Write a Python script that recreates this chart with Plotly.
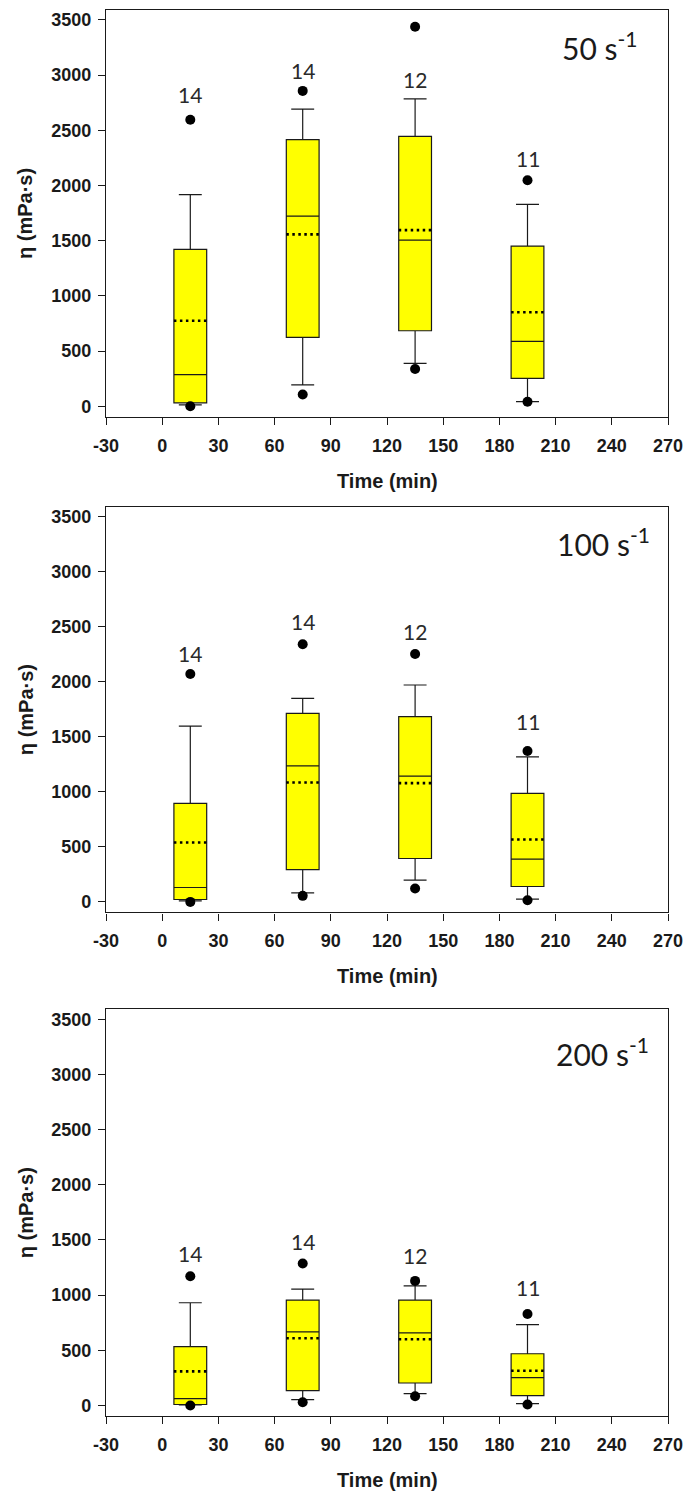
import plotly.graph_objects as go

# ---- data -------------------------------------------------------------
TIMES = [15, 75, 135, 195]                 # sampling time (min)
SHEAR_RATES = ["50", "100", "200"]         # s^-1, one panel each
N_COUNTS = [14, 14, 12, 11]                # samples per time point

# box statistics per panel (rows: 50, 100, 200 s^-1)
Q1 = [
    [31, 623, 684, 253],
    [22, 294, 394, 140],
    [9, 135, 204, 90],
]
MEDIAN = [
    [286, 1722, 1505, 587],
    [131, 1236, 1143, 388],
    [63, 667, 658, 252],
]
Q3 = [
    [1421, 2415, 2445, 1451],
    [894, 1712, 1682, 985],
    [534, 955, 955, 469],
]
MEAN = [
    [774, 1557, 1596, 852],
    [540, 1085, 1079, 567],
    [309, 610, 601, 315],
]
LOW_WHISKER = [
    [13, 193, 388, 42],
    [10, 82, 197, 25],
    [5, 54, 108, 18],
]
HIGH_WHISKER = [
    [1918, 2691, 2785, 1828],
    [1597, 1849, 1970, 1318],
    [931, 1054, 1084, 733],
]
LOW_OUTLIER = [
    [0, 106, 338, 40],
    [0, 55, 122, 15],
    [0, 30, 84, 9],
]
HIGH_OUTLIER = [
    [2595, 2857, 3438, 2047],
    [2070, 2340, 2252, 1371],
    [1171, 1286, 1129, 829],
]

X_TICKS = list(range(-30, 271, 30))
X_TICK_TEXT = [str(v) for v in X_TICKS]
Y_TICKS = list(range(0, 3501, 500))

# ---- layout helpers ---------------------------------------------------
FIG_W, FIG_H = 692, 1499
M_L, M_R, M_T, M_B = 106, 21, 9, 83
PANEL_PX = [(9, 416), (506, 912), (1009, 1416)]   # top/bottom of each plot area
PLOT_H = FIG_H - M_T - M_B

BOX_W = 17.5
YELLOW = "#FFFF00"
INK = "#1a1a1a"

# height of the "n" labels above each box (value units)
N_LABEL_Y = [
    [2826, 3038, 2962, 2243],
    [2258, 2545, 2454, 1636],
    [1378, 1487, 1360, 1069],
]
# rate label anchor (right edge x, centre y)
RATE_LABEL_POS = [(254.6, 3266), (261.5, 3272), (260.8, 3201)]

fig = go.Figure()
layout_axes = {}
annotations = []

for p, rate in enumerate(SHEAR_RATES):
    sfx = "" if p == 0 else str(p + 1)
    xa, ya = "x" + sfx, "y" + sfx

    fig.add_trace(go.Box(
        x=TIMES,
        q1=Q1[p], median=MEDIAN[p], q3=Q3[p],
        lowerfence=LOW_WHISKER[p], upperfence=HIGH_WHISKER[p],
        width=BOX_W, whiskerwidth=0.7,
        fillcolor=YELLOW,
        line=dict(color=INK, width=1.2),
        boxpoints=False, showlegend=False, hoverinfo="skip",
        xaxis=xa, yaxis=ya,
    ))

    # dotted mean lines across each box
    for t, m in zip(TIMES, MEAN[p]):
        fig.add_trace(go.Scatter(
            x=[t - BOX_W / 2, t + BOX_W / 2], y=[m, m],
            mode="lines",
            line=dict(color="black", width=2.6, dash="2.5px,3.5px"),
            showlegend=False, hoverinfo="skip",
            xaxis=xa, yaxis=ya,
        ))

    # outliers
    fig.add_trace(go.Scatter(
        x=TIMES + TIMES,
        y=LOW_OUTLIER[p] + HIGH_OUTLIER[p],
        mode="markers",
        marker=dict(color="black", size=10),
        showlegend=False, hoverinfo="skip",
        xaxis=xa, yaxis=ya,
    ))

    top_px, bot_px = PANEL_PX[p]
    dom = [1 - (bot_px - M_T) / PLOT_H, 1 - (top_px - M_T) / PLOT_H]

    axis_common = dict(
        showline=True, linecolor=INK, linewidth=1.4, mirror=True,
        ticks="outside", ticklen=7, tickwidth=1.2, tickcolor=INK,
        showgrid=False, zeroline=False,
        tickfont=dict(family="Liberation Sans, Arial", size=18,
                      color=INK, weight="bold"),
    )
    layout_axes["xaxis" + sfx] = dict(
        axis_common, range=[-30, 270], tickvals=X_TICKS, ticktext=X_TICK_TEXT,
        ticklabelstandoff=5, anchor=ya, domain=[0, 1],
    )
    layout_axes["yaxis" + sfx] = dict(
        axis_common, range=[-95, 3590], tickvals=Y_TICKS,
        ticklabelstandoff=3, anchor=xa, domain=dom,
    )

    # sample counts
    for t, n, ly in zip(TIMES, N_COUNTS, N_LABEL_Y[p]):
        annotations.append(dict(
            x=t, y=ly, xref=xa, yref=ya, text=str(n), showarrow=False,
            font=dict(family="Lato, Open Sans", size=21, color="#2a2a2a"),
            xanchor="center", yanchor="middle",
        ))

    # shear rate label
    rx, ry = RATE_LABEL_POS[p]
    annotations.append(dict(
        x=rx, y=ry, xref=xa, yref=ya,
        text=f"{rate} s<sup>-1</sup>", showarrow=False,
        font=dict(family="Lato, Open Sans", size=30, color=INK),
        xanchor="right", yanchor="middle",
    ))

    # axis titles
    title_font = dict(family="Liberation Sans, Arial", size=20,
                      color=INK, weight="bold")
    annotations.append(dict(
        x=0.5, y=0, xref=xa + " domain", yref=ya + " domain",
        yshift=-64, text="Time (min)", showarrow=False,
        font=title_font, xanchor="center", yanchor="middle",
    ))
    annotations.append(dict(
        x=-0.143, y=0.5, xref=xa + " domain", yref=ya + " domain",
        text="η (mPa·s)", textangle=-90, showarrow=False,
        font=title_font, xanchor="center", yanchor="middle",
    ))

fig.update_layout(
    width=FIG_W, height=FIG_H,
    margin=dict(l=M_L, r=M_R, t=M_T, b=M_B),
    paper_bgcolor="white", plot_bgcolor="white",
    annotations=annotations,
    **layout_axes,
)

fig.write_html("out.html")
